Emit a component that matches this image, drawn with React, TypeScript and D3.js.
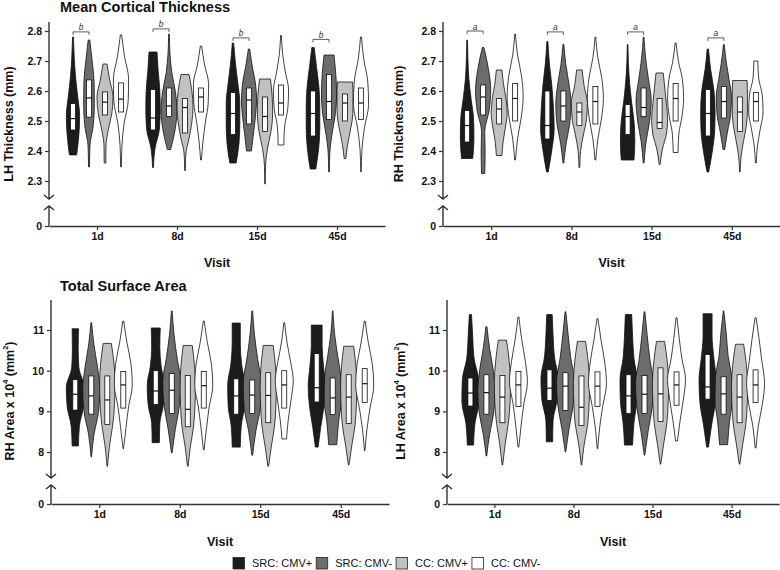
import { useEffect, useRef } from "react";
import * as d3 from "d3";

const W = 780;
const H = 570;
const FONT = "'Liberation Sans', Arial, Helvetica, sans-serif";

const visits = ["1d", "8d", "15d", "45d"];
const groups = ["SRC: CMV+", "SRC: CMV-", "CC: CMV+", "CC: CMV-"];

// [min, q1, median, q3, max] per violin, visit by visit (4 groups each)
const lhThickStats = [
  [2.387, 2.47, 2.508, 2.558, 2.78], [2.347, 2.513, 2.577, 2.637, 2.77], [2.36, 2.52, 2.563, 2.597, 2.69], [2.347, 2.53, 2.573, 2.627, 2.787],
  [2.345, 2.47, 2.51, 2.605, 2.73], [2.405, 2.515, 2.55, 2.61, 2.79], [2.335, 2.46, 2.545, 2.575, 2.655], [2.37, 2.53, 2.58, 2.61, 2.75],
  [2.36, 2.455, 2.525, 2.595, 2.76], [2.4, 2.49, 2.57, 2.61, 2.74], [2.29, 2.465, 2.515, 2.58, 2.64], [2.42, 2.52, 2.56, 2.62, 2.785],
  [2.34, 2.45, 2.525, 2.6, 2.745], [2.33, 2.505, 2.565, 2.655, 2.72], [2.375, 2.5, 2.56, 2.59, 2.63], [2.33, 2.505, 2.56, 2.61, 2.78],
];
// relative violin width at 7 even levels from min to max
const lhThickShape = [
  [0.45, 0.73, 0.83, 0.58, 0.31, 0.15, 0.05], [0.06, 0.12, 0.55, 0.67, 0.64, 0.4, 0.1], [0.1, 0.12, 0.4, 0.85, 1.0, 0.6, 0.25], [0.05, 0.12, 0.4, 0.9, 0.95, 0.45, 0.08],
  [0.05, 0.25, 0.8, 0.9, 0.85, 0.65, 0.5], [0.2, 0.75, 1.0, 0.8, 0.35, 0.12, 0.04], [0.04, 0.1, 0.5, 0.85, 1.0, 0.85, 0.5], [0.05, 0.25, 0.55, 0.9, 0.95, 0.45, 0.08],
  [0.4, 0.75, 0.85, 0.85, 0.6, 0.3, 0.08], [0.3, 0.55, 0.8, 0.95, 0.8, 0.4, 0.08], [0.03, 0.06, 0.3, 0.75, 0.95, 0.9, 0.67], [0.35, 0.45, 0.85, 0.95, 0.55, 0.2, 0.05],
  [0.35, 0.7, 0.85, 0.85, 0.75, 0.45, 0.15], [0.04, 0.1, 0.4, 0.8, 0.95, 0.85, 0.62], [0.1, 0.3, 0.6, 0.9, 1.0, 1.0, 0.94], [0.03, 0.12, 0.45, 0.95, 0.85, 0.35, 0.06],
];

const rhThickStats = [
  [2.375, 2.43, 2.485, 2.535, 2.77], [2.325, 2.52, 2.58, 2.62, 2.745], [2.385, 2.49, 2.54, 2.575, 2.67], [2.37, 2.5, 2.575, 2.625, 2.79],
  [2.33, 2.44, 2.485, 2.6, 2.765], [2.36, 2.5, 2.55, 2.6, 2.755], [2.345, 2.485, 2.53, 2.56, 2.67], [2.37, 2.49, 2.565, 2.615, 2.78],
  [2.37, 2.455, 2.515, 2.555, 2.755], [2.36, 2.515, 2.545, 2.61, 2.78], [2.355, 2.475, 2.495, 2.575, 2.66], [2.395, 2.5, 2.575, 2.625, 2.76],
  [2.33, 2.45, 2.525, 2.605, 2.74], [2.405, 2.51, 2.565, 2.615, 2.755], [2.33, 2.465, 2.53, 2.58, 2.635], [2.36, 2.5, 2.565, 2.595, 2.7],
];
const rhThickShape = [
  [0.7, 0.85, 0.8, 0.5, 0.22, 0.1, 0.04], [0.2, 0.25, 0.2, 0.75, 0.95, 0.65, 0.1], [0.35, 0.5, 0.8, 1.0, 0.85, 0.55, 0.35], [0.05, 0.3, 0.75, 1.0, 0.8, 0.3, 0.04],
  [0.1, 0.55, 0.85, 0.75, 0.55, 0.25, 0.06], [0.05, 0.35, 0.8, 0.95, 0.7, 0.3, 0.06], [0.05, 0.15, 0.5, 0.9, 1.0, 0.6, 0.35], [0.05, 0.3, 0.75, 1.0, 0.8, 0.3, 0.04],
  [0.8, 0.9, 0.8, 0.5, 0.25, 0.1, 0.04], [0.05, 0.3, 0.75, 0.95, 0.6, 0.25, 0.04], [0.05, 0.35, 0.85, 1.0, 0.85, 0.65, 0.45], [0.3, 0.4, 0.8, 1.0, 0.85, 0.35, 0.06],
  [0.1, 0.55, 0.85, 0.9, 0.75, 0.35, 0.08], [0.1, 0.45, 0.85, 0.95, 0.65, 0.3, 0.05], [0.03, 0.15, 0.45, 0.8, 0.95, 0.95, 0.9], [0.05, 0.2, 0.55, 0.9, 0.8, 0.35, 0.25],
];

const rhAreaStats = [
  [8.15, 9.03, 9.42, 9.78, 11.03], [7.88, 8.93, 9.38, 9.87, 11.18], [7.65, 8.68, 9.28, 9.87, 10.67], [8.08, 9.08, 9.65, 9.98, 11.22],
  [8.23, 9.17, 9.5, 10.0, 11.05], [7.98, 8.95, 9.52, 9.93, 11.47], [7.65, 8.62, 9.05, 9.88, 10.62], [8.05, 9.08, 9.63, 9.98, 11.22],
  [8.12, 8.93, 9.38, 9.8, 11.17], [7.92, 8.95, 9.4, 9.77, 11.47], [7.65, 8.72, 9.39, 9.95, 10.62], [8.32, 9.08, 9.65, 10.0, 11.18],
  [8.12, 9.23, 9.58, 10.42, 11.12], [8.18, 8.92, 9.33, 9.82, 11.47], [7.68, 8.7, 9.35, 9.9, 10.6], [8.03, 9.22, 9.68, 10.05, 11.22],
];
const rhAreaShape = [
  [0.35, 0.45, 0.9, 1.0, 0.4, 0.32, 0.35], [0.03, 0.3, 0.8, 0.95, 0.7, 0.3, 0.04], [0.03, 0.25, 0.6, 0.8, 0.85, 0.75, 0.45], [0.03, 0.3, 0.6, 1.0, 0.85, 0.4, 0.05],
  [0.4, 0.45, 0.85, 0.95, 0.6, 0.45, 0.5], [0.04, 0.4, 0.85, 1.0, 0.6, 0.25, 0.04], [0.04, 0.3, 0.65, 0.8, 0.85, 0.75, 0.5], [0.03, 0.3, 0.6, 1.0, 0.85, 0.4, 0.05],
  [0.45, 0.55, 0.9, 0.95, 0.6, 0.45, 0.45], [0.04, 0.4, 0.9, 1.0, 0.6, 0.25, 0.04], [0.04, 0.35, 0.7, 0.85, 0.9, 0.8, 0.55], [0.25, 0.45, 0.75, 1.0, 0.7, 0.3, 0.05],
  [0.15, 0.45, 0.8, 0.95, 0.75, 0.6, 0.6], [0.45, 0.65, 0.95, 0.9, 0.55, 0.2, 0.03], [0.03, 0.35, 0.7, 0.85, 0.9, 0.8, 0.55], [0.03, 0.25, 0.6, 1.0, 0.85, 0.4, 0.05],
];

const lhAreaStats = [
  [8.17, 9.13, 9.45, 9.82, 11.38], [7.9, 8.93, 9.46, 9.9, 11.08], [7.68, 8.72, 9.35, 9.88, 10.75], [8.12, 9.12, 9.65, 9.98, 11.32],
  [8.25, 9.27, 9.57, 10.02, 11.38], [8.0, 9.02, 9.62, 9.95, 11.45], [7.68, 8.65, 9.1, 9.87, 10.72], [8.08, 9.12, 9.62, 9.97, 11.28],
  [8.17, 8.95, 9.38, 9.9, 11.38], [7.92, 8.95, 9.42, 9.88, 11.45], [7.7, 8.75, 9.43, 10.07, 10.72], [8.27, 9.15, 9.65, 9.97, 11.3],
  [8.12, 9.3, 9.6, 10.4, 11.4], [8.18, 8.93, 9.43, 9.85, 11.47], [7.7, 8.72, 9.35, 9.9, 10.65], [8.1, 9.22, 9.65, 10.02, 11.3],
];
const lhAreaShape = [
  [0.35, 0.5, 0.95, 0.9, 0.4, 0.25, 0.12], [0.03, 0.35, 0.8, 0.95, 0.75, 0.35, 0.06], [0.03, 0.3, 0.65, 0.85, 0.9, 0.75, 0.45], [0.04, 0.3, 0.6, 1.0, 0.75, 0.35, 0.05],
  [0.35, 0.4, 0.85, 0.95, 0.55, 0.4, 0.3], [0.03, 0.4, 0.85, 1.0, 0.6, 0.3, 0.04], [0.03, 0.3, 0.7, 0.85, 0.9, 0.75, 0.45], [0.03, 0.25, 0.6, 1.0, 0.8, 0.4, 0.05],
  [0.45, 0.6, 0.9, 0.95, 0.6, 0.45, 0.35], [0.03, 0.4, 0.85, 1.0, 0.6, 0.3, 0.04], [0.03, 0.35, 0.7, 0.85, 0.9, 0.75, 0.45], [0.1, 0.4, 0.75, 1.0, 0.6, 0.3, 0.05],
  [0.1, 0.45, 0.85, 0.95, 0.7, 0.5, 0.5], [0.45, 0.65, 0.95, 0.9, 0.5, 0.3, 0.03], [0.03, 0.35, 0.7, 0.85, 0.9, 0.75, 0.45], [0.05, 0.3, 0.75, 1.0, 0.7, 0.4, 0.06],
];

const thickTicks = [2.3, 2.4, 2.5, 2.6, 2.7, 2.8];
const areaTicks = [8, 9, 10, 11];

// heights of the significance brackets (SRC: CMV+ vs SRC: CMV-)
const lhThickSig = [2.797, 2.807, 2.777, 2.772];
const rhThickSig = [2.8, 2.797, 2.797, 2.777];

const FILLS = ["#1c1c1c", "#6c6c6c", "#c1c1c1", "#ffffff"];
const OFFSETS = [-24, -8, 8, 24];
const BOX_W = 5;
const AXIS_COLOR = "#333";

type Panel = {
  stats: number[][];
  shape: number[][];
  ticks: number[];
  fmt: (v: number) => string;
  yDomain: [number, number];
  yRange: [number, number];
  axisX: number;
  xEnd: number;
  yTop: number;
  yV: number;
  yL: number;
  yZero: number;
  halfW: number;
  title?: string;
  titleY?: number;
  yLabel: [string, boolean][];
  labelX: number;
  labelY: number;
  visitY: number;
  sig?: number[];
  sigLabel?: string;
};

const thickFmt = d3.format(".1f");
const areaFmt = d3.format("d");

const PANELS: Panel[] = [
  {
    stats: lhThickStats, shape: lhThickShape, ticks: thickTicks, fmt: thickFmt,
    yDomain: [2.3, 2.8], yRange: [181, 31],
    axisX: 49, xEnd: 385, yTop: 22, yV: 199, yL: 206, yZero: 226, halfW: 8,
    title: "Mean Cortical Thickness", titleY: 12,
    yLabel: [["LH Thickness (mm)", false]], labelX: 9, labelY: 124, visitY: 267,
    sig: lhThickSig, sigLabel: "b",
  },
  {
    stats: rhThickStats, shape: rhThickShape, ticks: thickTicks, fmt: thickFmt,
    yDomain: [2.3, 2.8], yRange: [181, 31],
    axisX: 443, xEnd: 780, yTop: 22, yV: 199, yL: 206, yZero: 226, halfW: 8,
    yLabel: [["RH Thickness (mm)", false]], labelX: 399, labelY: 124, visitY: 267,
    sig: rhThickSig, sigLabel: "a",
  },
  {
    stats: rhAreaStats, shape: rhAreaShape, ticks: areaTicks, fmt: areaFmt,
    yDomain: [8, 11], yRange: [452, 330],
    axisX: 51, xEnd: 389, yTop: 300, yV: 478, yL: 485, yZero: 504, halfW: 9,
    title: "Total Surface Area", titleY: 291,
    yLabel: [["RH Area x 10", false], ["4", true], [" (mm", false], ["2", true], [")", false]],
    labelX: 10, labelY: 401, visitY: 546,
  },
  {
    stats: lhAreaStats, shape: lhAreaShape, ticks: areaTicks, fmt: areaFmt,
    yDomain: [8, 11], yRange: [452, 330],
    axisX: 447, xEnd: 779, yTop: 300, yV: 478, yL: 485, yZero: 504, halfW: 9,
    yLabel: [["LH Area x 10", false], ["4", true], [" (mm", false], ["2", true], [")", false]],
    labelX: 401, labelY: 401, visitY: 546,
  },
];

type Pt = { v: number; w: number };

function styleAxis(g: d3.Selection<SVGGElement, unknown, null, undefined>) {
  g.attr("font-family", FONT).attr("font-size", 10.5).attr("font-weight", "bold");
  g.selectAll("line").attr("stroke", AXIS_COLOR).attr("stroke-width", 1.2);
  g.selectAll(".domain").attr("stroke", AXIS_COLOR).attr("stroke-width", 1.4);
  g.selectAll("text").attr("fill", "#111");
}

function drawPanel(svg: d3.Selection<SVGSVGElement, unknown, null, undefined>, p: Panel) {
  const x = d3.scalePoint<string>().domain(visits).range([p.axisX, p.xEnd]).padding(0.6);
  const y = d3.scaleLinear().domain(p.yDomain).range(p.yRange);
  const g = svg.append("g");

  // Violins with inner box
  visits.forEach((v, vi) => {
    groups.forEach((_, gi) => {
      const idx = vi * groups.length + gi;
      const [mn, q1, md, q3, mx] = p.stats[idx];
      const widths = p.shape[idx];
      const cx = (x(v) as number) + OFFSETS[gi];
      const pts: Pt[] = widths
        .map((w, i) => ({ v: mn + ((mx - mn) * i) / (widths.length - 1), w }))
        .reverse();
      const area = d3
        .area<Pt>()
        .y((d) => y(d.v))
        .x0((d) => cx - d.w * p.halfW)
        .x1((d) => cx + d.w * p.halfW)
        .curve(d3.curveMonotoneY);
      g.append("path")
        .attr("d", area(pts) ?? "")
        .attr("fill", FILLS[gi])
        .attr("stroke", "#111")
        .attr("stroke-width", 0.8);
      g.append("rect")
        .attr("x", cx - BOX_W / 2)
        .attr("y", y(q3))
        .attr("width", BOX_W)
        .attr("height", y(q1) - y(q3))
        .attr("fill", "#fff")
        .attr("stroke", "#111")
        .attr("stroke-width", 0.8);
      g.append("line")
        .attr("x1", cx - BOX_W / 2)
        .attr("x2", cx + BOX_W / 2)
        .attr("y1", y(md))
        .attr("y2", y(md))
        .attr("stroke", "#111")
        .attr("stroke-width", 1.2);
    });
  });

  // Significance brackets
  if (p.sig) {
    visits.forEach((v, vi) => {
      const x1 = (x(v) as number) + OFFSETS[0];
      const x2 = (x(v) as number) + OFFSETS[1];
      const yy = y(p.sig![vi]);
      g.append("path")
        .attr("d", `M${x1},${yy + 3}V${yy}H${x2}V${yy + 3}`)
        .attr("fill", "none")
        .attr("stroke", "#333")
        .attr("stroke-width", 0.8);
      g.append("text")
        .attr("x", (x1 + x2) / 2)
        .attr("y", yy - 1.5)
        .attr("text-anchor", "middle")
        .attr("font-family", FONT)
        .attr("font-style", "italic")
        .attr("font-size", 8.5)
        .attr("fill", "#333")
        .text(p.sigLabel ?? "");
    });
  }

  // Y axis (upper segment) ticks
  const yAx = g
    .append("g")
    .attr("transform", `translate(${p.axisX},0)`)
    .call(d3.axisLeft(y).tickValues(p.ticks).tickSize(4).tickPadding(3).tickFormat((d) => p.fmt(d as number)));
  yAx.select(".domain").remove();
  styleAxis(yAx);

  // Y axis lower segment: zero tick only
  const yLow = d3.scaleLinear().domain([0, 1]).range([p.yZero, p.yZero - 20]);
  const yAx0 = g
    .append("g")
    .attr("transform", `translate(${p.axisX},0)`)
    .call(d3.axisLeft(yLow).tickValues([0]).tickSize(4).tickPadding(3).tickFormat((d) => areaFmt(d as number)));
  yAx0.select(".domain").remove();
  styleAxis(yAx0);

  // Broken axis line with chevrons
  const ax = p.axisX;
  g.append("path")
    .attr(
      "d",
      `M${ax},${p.yTop}V${p.yV}M${ax - 5},${p.yV - 4}L${ax},${p.yV}L${ax + 5},${p.yV - 4}` +
        `M${ax - 5},${p.yL + 4}L${ax},${p.yL}L${ax + 5},${p.yL + 4}M${ax},${p.yL}V${p.yZero}`
    )
    .attr("fill", "none")
    .attr("stroke", AXIS_COLOR)
    .attr("stroke-width", 1.4);

  // X axis
  const xAx = g
    .append("g")
    .attr("transform", `translate(0,${p.yZero})`)
    .call(d3.axisBottom(x).tickSize(4).tickSizeOuter(0).tickPadding(3));
  styleAxis(xAx);

  // Labels
  g.append("text")
    .attr("x", (p.axisX + p.xEnd) / 2)
    .attr("y", p.visitY)
    .attr("text-anchor", "middle")
    .attr("font-family", FONT)
    .attr("font-weight", "bold")
    .attr("font-size", 12.5)
    .attr("fill", "#111")
    .text("Visit");

  const yl = g
    .append("text")
    .attr("transform", `translate(${p.labelX},${p.labelY}) rotate(-90)`)
    .attr("text-anchor", "middle")
    .attr("dominant-baseline", "central")
    .attr("font-family", FONT)
    .attr("font-weight", "bold")
    .attr("font-size", 12.5)
    .attr("fill", "#111");
  let shifted = false;
  p.yLabel.forEach(([t, sup]) => {
    const ts = yl.append("tspan").text(t);
    if (sup) {
      ts.attr("font-size", 7.5).attr("dy", -5);
      shifted = true;
    } else if (shifted) {
      ts.attr("dy", 5);
      shifted = false;
    }
  });

  if (p.title) {
    g.append("text")
      .attr("x", 60)
      .attr("y", p.titleY ?? 0)
      .attr("font-family", FONT)
      .attr("font-weight", "bold")
      .attr("font-size", 14.5)
      .attr("fill", "#111")
      .text(p.title);
  }
}

function drawLegend(svg: d3.Selection<SVGSVGElement, unknown, null, undefined>) {
  const lg = svg.append("g").attr("transform", "translate(233,563)");
  let cx = 0;
  groups.forEach((name, i) => {
    lg.append("rect")
      .attr("x", cx)
      .attr("y", -5.5)
      .attr("width", 11.5)
      .attr("height", 11.5)
      .attr("fill", FILLS[i])
      .attr("stroke", "#222")
      .attr("stroke-width", 0.8);
    const t = lg
      .append("text")
      .attr("x", cx + 19)
      .attr("y", 0)
      .attr("dominant-baseline", "central")
      .attr("font-family", FONT)
      .attr("font-size", 11)
      .attr("fill", "#111")
      .text(name);
    const len = (t.node() as SVGTextElement).getComputedTextLength();
    cx += 19 + len + 4;
  });
}

export default function App() {
  const svgRef = useRef<SVGSVGElement | null>(null);

  useEffect(() => {
    if (!svgRef.current) return;
    const svg = d3.select(svgRef.current);
    svg.selectAll("*").remove();
    svg.append("rect").attr("width", W).attr("height", H).attr("fill", "#fff");
    PANELS.forEach((p) => drawPanel(svg, p));
    drawLegend(svg);
  }, []);

  return (
    <svg
      ref={svgRef}
      width={W}
      height={H}
      style={{ position: "absolute", left: 0, top: 0, display: "block" }}
    />
  );
}
